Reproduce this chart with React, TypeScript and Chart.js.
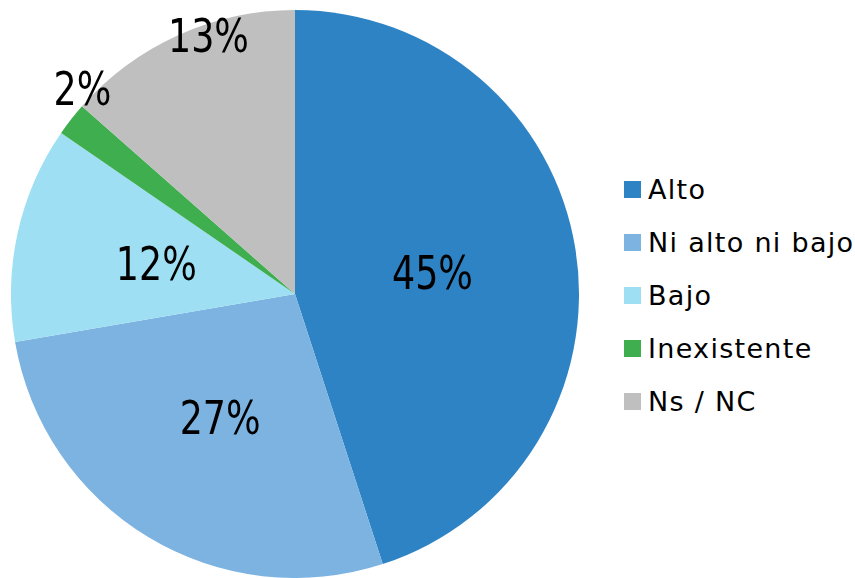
import React, { useEffect, useRef } from "react";
import { Chart, registerables } from "chart.js";

Chart.register(...registerables);

const categories = ["Alto", "Ni alto ni bajo", "Bajo", "Inexistente", "Ns / NC"];
const values = [45.0, 27.3, 12.3, 1.9, 13.5];
const percentLabels = ["45%", "27%", "12%", "2%", "13%"];
const colors = ["#2E83C4", "#7DB3E0", "#9EDFF3", "#3FAE4F", "#BFBFBF"];

// label placement: fraction of radius and angular shift (degrees)
const labelPlacement = [
  { r: 0.49, da: 0 },
  { r: 0.51, da: 0 },
  { r: 0.5, da: 0 },
  { r: 1.04, da: 6 },
  { r: 0.96, da: 5.8 },
];

const pctFont = "46px 'Liberation Sans Narrow', 'DejaVu Sans Condensed', sans-serif";

const labelPlugin = {
  id: "pctLabels",
  afterDatasetsDraw(chart: any) {
    const ctx = chart.ctx;
    const meta = chart.getDatasetMeta(0);
    meta.data.forEach((arc: any, i: number) => {
      const p = arc.getProps(["x", "y", "startAngle", "endAngle", "outerRadius"], true);
      const mid = (p.startAngle + p.endAngle) / 2 + (labelPlacement[i].da * Math.PI) / 180;
      const rr = p.outerRadius * labelPlacement[i].r;
      const cx = p.x + Math.cos(mid) * rr;
      const cy = p.y + Math.sin(mid) * rr;
      ctx.save();
      ctx.font = pctFont;
      ctx.fillStyle = "#000000";
      ctx.textAlign = "center";
      ctx.textBaseline = "alphabetic";
      ctx.translate(cx, cy + 16.5);
      ctx.scale(0.88, 1);
      ctx.fillText(percentLabels[i], 0, 0);
      ctx.restore();
    });
  },
};

export default function App() {
  const ref = useRef<HTMLCanvasElement | null>(null);

  useEffect(() => {
    if (!ref.current) return;
    const chart = new Chart(ref.current, {
      type: "pie",
      data: {
        labels: categories,
        datasets: [
          {
            data: values,
            backgroundColor: colors,
            borderWidth: 0,
          },
        ],
      },
      options: {
        animation: false,
        responsive: false,
        devicePixelRatio: 1,
        layout: { padding: { top: 10, left: 11, right: 21, bottom: 0 } },
        plugins: {
          legend: { display: false },
          tooltip: { enabled: false },
        },
      },
      plugins: [labelPlugin],
    });
    return () => chart.destroy();
  }, []);

  return (
    <div style={{ position: "absolute", left: 0, top: 0, width: 855, height: 578, background: "#ffffff", overflow: "hidden" }}>
      <canvas ref={ref} width={600} height={578} style={{ position: "absolute", left: 0, top: 0 }} />
      <div style={{ position: "absolute", left: 624, top: 163 }}>
        {categories.map((c, i) => (
          <div key={c} style={{ display: "flex", alignItems: "center", height: 53 }}>
            <div style={{ width: 17, height: 17, background: colors[i], marginRight: 7, flex: "none" }} />
            <span
              style={{
                fontFamily: "'DejaVu Sans', sans-serif",
                fontSize: 27,
                letterSpacing: 1.3,
                color: "#000000",
                whiteSpace: "nowrap",
                lineHeight: "53px",
              }}
            >
              {c}
            </span>
          </div>
        ))}
      </div>
    </div>
  );
}
